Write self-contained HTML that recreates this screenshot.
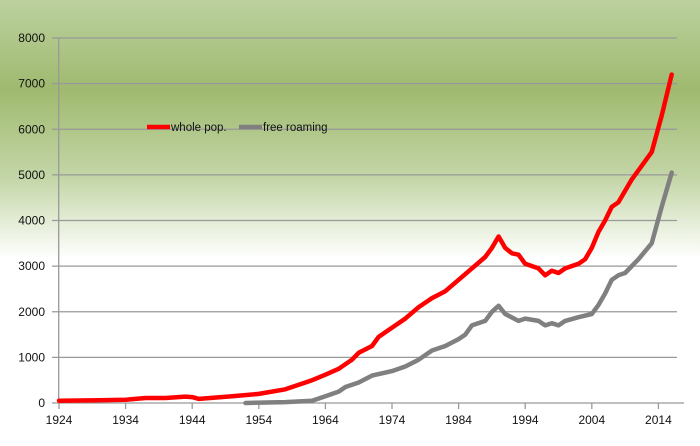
<!DOCTYPE html>
<html><head><meta charset="utf-8"><style>
html,body{margin:0;padding:0;width:700px;height:446px;overflow:hidden;background:#fff}
svg{display:block;font-family:"Liberation Sans",sans-serif}
</style></head><body>
<svg width="700" height="446" xmlns="http://www.w3.org/2000/svg">
<defs><linearGradient id="bg" x1="0" y1="0" x2="0" y2="1">
<stop offset="0" stop-color="#bcd19f"/>
<stop offset="0.2" stop-color="#9fba6f"/>
<stop offset="0.4" stop-color="#c4d6a8"/>
<stop offset="0.58" stop-color="#ffffff"/>
<stop offset="1" stop-color="#ffffff"/>
</linearGradient></defs>
<rect width="700" height="446" fill="url(#bg)"/>
<g id="grid" stroke="#999" stroke-width="1.3"></g>
<g id="lbl" font-size="12" fill="#111"></g>
<line x1="58.7" y1="38" x2="58.7" y2="403" stroke="#999" stroke-width="1.3"/>
<polyline id="gray" fill="none" stroke="#808080" stroke-width="4.5" stroke-linejoin="round" stroke-linecap="round"/>
<polyline id="red" fill="none" stroke="#ff0000" stroke-width="4.5" stroke-linejoin="round" stroke-linecap="round"/>
<line x1="147" y1="127" x2="170" y2="127" stroke="#ff0000" stroke-width="4.5"/>
<text x="171" y="131" font-size="11.5" fill="#111">whole pop.</text>
<line x1="239" y1="127" x2="262" y2="127" stroke="#808080" stroke-width="4.5"/>
<text x="263" y="131" font-size="11.5" fill="#111">free roaming</text>
</svg>
<script>
const X=y=>59+(y-1924)*6.66, Y=v=>403-v*0.045625;
const ns="http://www.w3.org/2000/svg";
const g=document.getElementById('grid'),l=document.getElementById('lbl');
for(let i=0;i<=8;i++){const y=Y(i*1000);
 const ln=document.createElementNS(ns,'line');ln.setAttribute('x1',52);ln.setAttribute('x2',i==0?684:677);ln.setAttribute('y1',y);ln.setAttribute('y2',y);g.appendChild(ln);
 const t=document.createElementNS(ns,'text');t.setAttribute('x',45);t.setAttribute('y',y+4);t.setAttribute('text-anchor','end');t.textContent=i*1000;l.appendChild(t);}
for(let yr=1924;yr<=2014;yr+=10){const x=X(yr);
 const ln=document.createElementNS(ns,'line');ln.setAttribute('x1',x);ln.setAttribute('x2',x);ln.setAttribute('y1',403);ln.setAttribute('y2',409);g.appendChild(ln);
 const t=document.createElementNS(ns,'text');t.setAttribute('x',x);t.setAttribute('y',424);t.setAttribute('text-anchor','middle');t.textContent=yr;l.appendChild(t);}
const red=[[1924,50],[1930,60],[1934,70],[1937,110],[1940,110],[1943,140],[1944,130],[1945,90],[1950,150],[1954,200],[1958,300],[1962,500],[1964,620],[1966,750],[1968,950],[1969,1100],[1971,1250],[1972,1450],[1974,1650],[1976,1850],[1978,2100],[1980,2300],[1982,2450],[1984,2700],[1986,2950],[1988,3200],[1989,3400],[1990,3650],[1991,3400],[1992,3280],[1993,3250],[1994,3050],[1996,2950],[1997,2800],[1998,2900],[1999,2850],[2000,2950],[2002,3050],[2003,3150],[2004,3400],[2005,3750],[2006,4000],[2007,4300],[2008,4400],[2010,4900],[2013,5500],[2014.5,6300],[2016,7200]];
const gray=[[1952,0],[1958,20],[1962,50],[1964,150],[1966,250],[1967,350],[1969,450],[1971,600],[1974,700],[1976,800],[1978,950],[1980,1150],[1982,1250],[1984,1400],[1985,1500],[1986,1700],[1988,1800],[1989,2000],[1990,2130],[1991,1950],[1993,1800],[1994,1850],[1996,1800],[1997,1700],[1998,1750],[1999,1700],[2000,1800],[2002,1880],[2004,1950],[2005,2150],[2006,2400],[2007,2700],[2008,2800],[2009,2850],[2011,3150],[2013,3500],[2014.5,4300],[2016,5050]];
const pts=a=>a.map(p=>X(p[0]).toFixed(1)+','+Y(p[1]).toFixed(1)).join(' ');
document.getElementById('red').setAttribute('points',pts(red));
document.getElementById('gray').setAttribute('points',pts(gray));
</script>
</body></html>
